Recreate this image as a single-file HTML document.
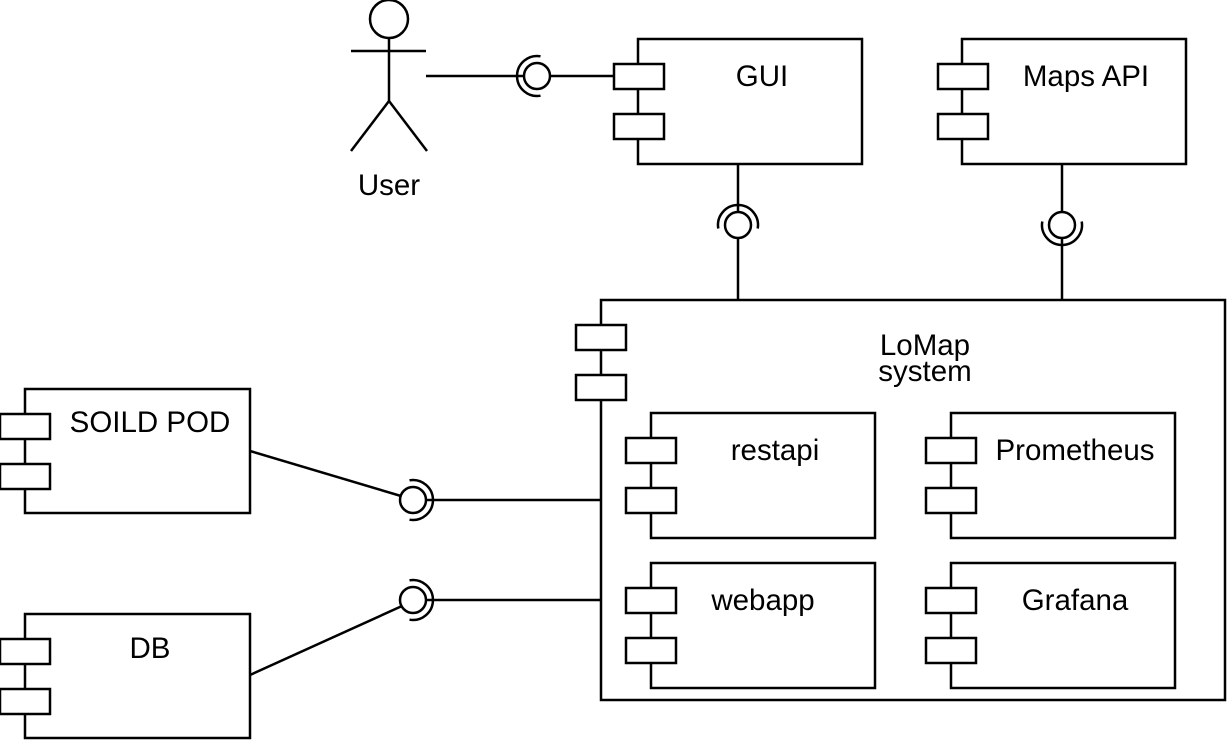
<!DOCTYPE html>
<html><head><meta charset="utf-8"><style>
html,body{margin:0;padding:0;background:#fff;}
svg{display:block;}
text{font-family:"Liberation Sans",Arial,sans-serif;font-size:29.5px;fill:#000;}
</style></head><body>
<svg width="1228" height="740" viewBox="0 0 1228 740" xmlns="http://www.w3.org/2000/svg">
<g fill="#fff" stroke="#000" stroke-width="2.5">
<!-- User -->
<circle cx="389" cy="19" r="19"/>
<line x1="389" y1="38" x2="389" y2="101"/>
<line x1="351" y1="51" x2="426" y2="51"/>
<line x1="389" y1="101" x2="351" y2="151"/>
<line x1="389" y1="101" x2="427" y2="151"/>
<!-- user-GUI -->
<line x1="426" y1="76" x2="524" y2="76"/>
<line x1="550" y1="76" x2="614" y2="76"/>
<circle cx="537" cy="76" r="13"/>
<path d="M 540.5 56.3 A 20 20 0 1 0 540.5 95.7" fill="none"/>
<!-- GUI -->
<rect x="638" y="39" width="224" height="125"/>
<rect x="614" y="64" width="50" height="25"/>
<rect x="614" y="114" width="50" height="25"/>
<!-- Maps -->
<rect x="962" y="39" width="224" height="125"/>
<rect x="938" y="64" width="50" height="25"/>
<rect x="938" y="114" width="50" height="25"/>
<!-- GUI lollipop -->
<line x1="738" y1="164" x2="738" y2="212"/>
<line x1="738" y1="238" x2="738" y2="300"/>
<circle cx="738" cy="225" r="13"/>
<path d="M 718.3 228.5 A 20 20 0 1 1 757.7 228.5" fill="none"/>
<!-- Maps lollipop -->
<line x1="1062" y1="164" x2="1062" y2="212"/>
<line x1="1062" y1="238" x2="1062" y2="300"/>
<circle cx="1062" cy="225" r="13"/>
<path d="M 1042.3 221.5 A 20 20 0 1 0 1081.7 221.5" fill="none"/>
<!-- LoMap -->
<rect x="601" y="300" width="624" height="400"/>
<rect x="576" y="325" width="50" height="25"/>
<rect x="576" y="375" width="50" height="25"/>
<rect x="651" y="413" width="224" height="125"/>
<rect x="626" y="438" width="50" height="25"/>
<rect x="626" y="488" width="50" height="25"/>
<rect x="951" y="413" width="224" height="125"/>
<rect x="926" y="438" width="50" height="25"/>
<rect x="926" y="488" width="50" height="25"/>
<rect x="651" y="563" width="224" height="125"/>
<rect x="626" y="588" width="50" height="25"/>
<rect x="626" y="638" width="50" height="25"/>
<rect x="951" y="563" width="224" height="125"/>
<rect x="926" y="588" width="50" height="25"/>
<rect x="926" y="638" width="50" height="25"/>
<!-- SOILD -->
<rect x="25" y="389" width="225" height="124"/>
<rect x="0" y="414" width="50" height="25"/>
<rect x="0" y="464" width="50" height="25"/>
<!-- DB -->
<rect x="25" y="614" width="225" height="124"/>
<rect x="0" y="639" width="50" height="25"/>
<rect x="0" y="689" width="50" height="25"/>
<!-- SOILD connector -->
<line x1="250" y1="451" x2="401" y2="496"/>
<line x1="426" y1="500" x2="601" y2="500"/>
<circle cx="413" cy="500" r="13"/>
<path d="M 409.5 480.3 A 20 20 0 1 1 409.5 519.7" fill="none"/>
<!-- DB connector -->
<line x1="250" y1="675" x2="402" y2="606"/>
<line x1="426" y1="600" x2="601" y2="600"/>
<circle cx="413" cy="600" r="13"/>
<path d="M 409.5 580.3 A 20 20 0 1 1 409.5 619.7" fill="none"/>
</g>
<g text-anchor="middle">
<text x="389" y="195">User</text>
<text x="762" y="86">GUI</text>
<text x="1086" y="86">Maps API</text>
<text x="925" y="355">LoMap</text>
<text x="925" y="381">system</text>
<text x="775" y="460">restapi</text>
<text x="1075" y="460">Prometheus</text>
<text x="763" y="610">webapp</text>
<text x="1075" y="610">Grafana</text>
<text x="150" y="432">SOILD POD</text>
<text x="150" y="658">DB</text>
</g>
</svg>
</body></html>
